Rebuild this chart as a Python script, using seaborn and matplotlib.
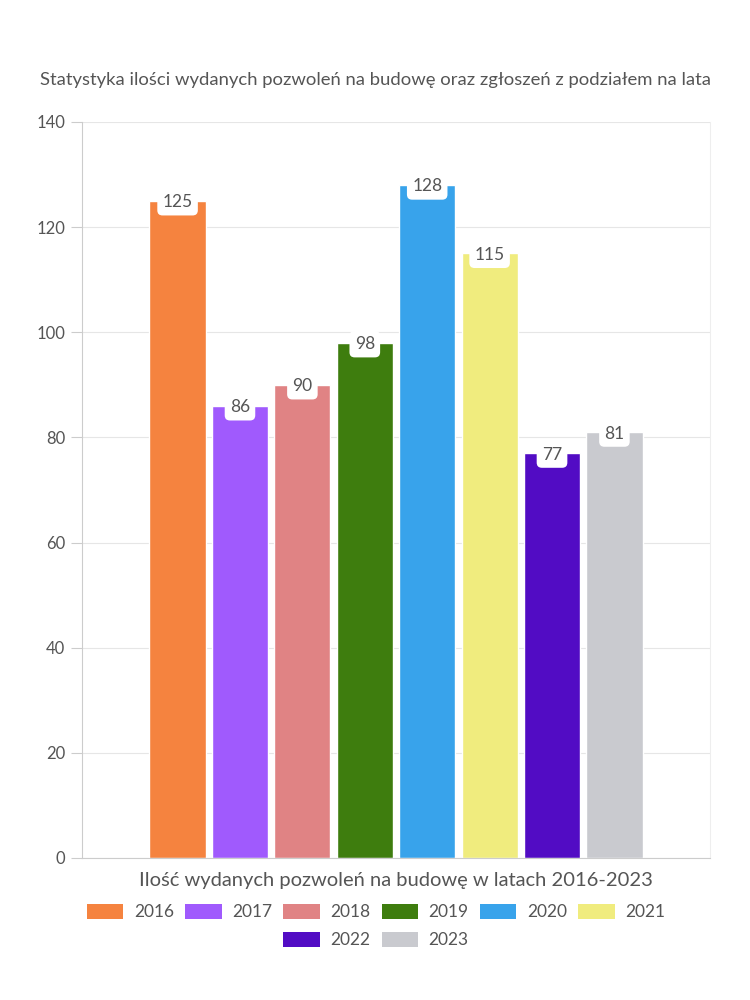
import matplotlib
matplotlib.use("Agg")
import matplotlib.pyplot as plt
import seaborn as sns
import pandas as pd
from matplotlib.patches import Patch

years = ["2016", "2017", "2018", "2019", "2020", "2021", "2022", "2023"]
values = [125, 86, 90, 98, 128, 115, 77, 81]
colors = ["#f5833f", "#a05afd", "#e08384", "#3e7d0e", "#38a3eb", "#f0ec7e", "#520cc4", "#c9cacf"]
category = "Ilość wydanych pozwoleń na budowę w latach 2016-2023"
title = "Statystyka ilości wydanych pozwoleń na budowę oraz zgłoszeń z podziałem na lata"
yticks = [0, 20, 40, 60, 80, 100, 120, 140]

df = pd.DataFrame({"cat": [category] * len(years), "year": years, "value": values})

sns.set_theme(style="white")
plt.rcParams["font.family"] = ["Lato", "DejaVu Sans"]
txt = "#555555"

fig = plt.figure(figsize=(7.5, 10), dpi=100)
ax = fig.add_axes([82 / 750, 142 / 1000, 628 / 750, 736 / 1000])

sns.barplot(data=df, x="cat", y="value", hue="year", hue_order=years,
            palette=colors, width=0.795, gap=0.1, saturation=1, legend=False, ax=ax)

ax.set_xlim(-0.5, 0.5)
ax.set_ylim(0, 140)
ax.set_yticks(yticks)
ax.set_yticklabels([str(v) for v in yticks], fontsize=12, color=txt)
ax.tick_params(axis="y", length=8, width=0.8, color="#cccccc", pad=4, left=True)
ax.tick_params(axis="x", bottom=False, labelbottom=False)
ax.grid(axis="y", color="#e6e6e6", linewidth=0.8)
ax.set_axisbelow(True)
for s in ["left", "bottom"]:
    ax.spines[s].set_color("#cccccc")
    ax.spines[s].set_linewidth(0.8)
for s in ["top", "right"]:
    ax.spines[s].set_color("#eeeeee")
    ax.spines[s].set_linewidth(0.8)
ax.spines["top"].set_visible(False)

ax.set_xlabel(category, fontsize=14.5, color=txt, labelpad=10)
ax.set_ylabel("")

for cont in ax.containers:
    for p in cont.patches:
        h = p.get_height()
        ax.annotate(f"{h:.0f}", (p.get_x() + p.get_width() / 2, h),
                    xytext=(0, -1), textcoords="offset points",
                    ha="center", va="center", fontsize=12.5, color=txt,
                    bbox=dict(boxstyle="round,pad=0.3", fc="white", ec="none"))

fig.text(375 / 750, 1 - 80 / 1000, title, ha="center", va="center", fontsize=13.3, color=txt)

handles = [Patch(facecolor=c, edgecolor="none") for c in colors]
kw = dict(frameon=False, fontsize=12.5, handlelength=2.1, handleheight=1.0,
          columnspacing=0.65, handletextpad=0.6, labelcolor=txt)
fig.legend(handles[:6], years[:6], loc="center", bbox_to_anchor=(376 / 750, 1 - 912 / 1000),
           ncol=6, **kw)
fig.legend(handles[6:], years[6:], loc="center", bbox_to_anchor=(376 / 750, 1 - 940 / 1000),
           ncol=2, **kw)

fig.savefig("out.png", dpi=100, facecolor="white")
